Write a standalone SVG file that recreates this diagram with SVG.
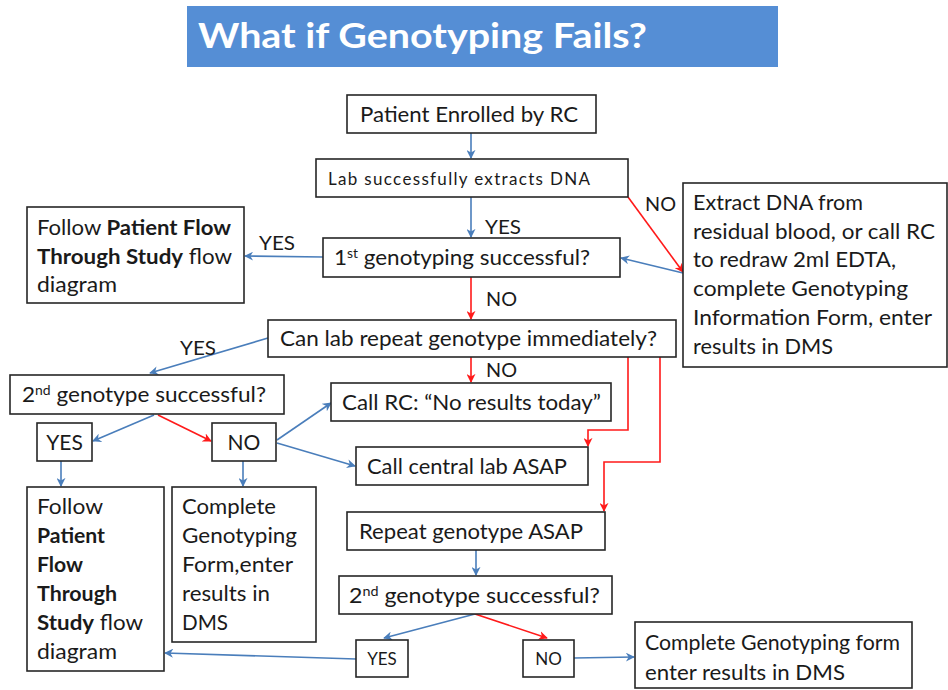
<svg xmlns="http://www.w3.org/2000/svg" width="948" height="690" viewBox="0 0 948 690">
  <style>
    .box { fill: #ffffff; stroke: #262626; stroke-width: 1.6; }
    .t { font-family: Lato, "Open Sans", "Liberation Sans", sans-serif; font-size: 21px; fill: #1a1a1a; }
    .s { font-size: 17px; }
    .b { font-weight: bold; }
    .blue { fill: none; stroke: #4a7ebb; stroke-width: 1.6; }
    .red { fill: none; stroke: #ff1a1a; stroke-width: 1.6; }
    .lbl { font-family: Lato, "Open Sans", "Liberation Sans", sans-serif; font-size: 19px; fill: #1a1a1a; }
  </style>
  <defs>
    <marker id="ab" viewBox="0 0 10 10" refX="9" refY="5" markerWidth="9" markerHeight="9" markerUnits="userSpaceOnUse" orient="auto">
      <path d="M0,0 L10,5 L0,10 L3,5 Z" fill="#4a7ebb"/>
    </marker>
    <marker id="ar" viewBox="0 0 10 10" refX="9" refY="5" markerWidth="9" markerHeight="9" markerUnits="userSpaceOnUse" orient="auto">
      <path d="M0,0 L10,5 L0,10 L3,5 Z" fill="#ff1a1a"/>
    </marker>
  </defs>

  <rect width="948" height="690" fill="#ffffff"/>

  <!-- title banner -->
  <g id="title">
    <rect x="187" y="6" width="591" height="61" fill="#558ed5"/>
    <text x="198" y="48" font-family="Lato, 'Open Sans', 'Liberation Sans', sans-serif" font-size="35" font-weight="bold" fill="#ffffff" textLength="449" lengthAdjust="spacingAndGlyphs">What if Genotyping Fails?</text>
  </g>

  <!-- connectors -->
  <g id="connectors">
    <line class="blue" x1="471" y1="133" x2="471" y2="158" marker-end="url(#ab)"/>
    <line class="blue" x1="471" y1="197" x2="471" y2="237" marker-end="url(#ab)"/>
    <line class="red" x1="628" y1="197" x2="683" y2="272" marker-end="url(#ar)"/>
    <line class="blue" x1="683" y1="273" x2="621" y2="258" marker-end="url(#ab)"/>
    <line class="blue" x1="323" y1="257" x2="245" y2="256" marker-end="url(#ab)"/>
    <line class="red" x1="471" y1="277" x2="471" y2="319" marker-end="url(#ar)"/>
    <line class="red" x1="471" y1="357" x2="471" y2="382" marker-end="url(#ar)"/>
    <line class="blue" x1="268" y1="338" x2="150" y2="373" marker-end="url(#ab)"/>
    <polyline class="red" points="628,357 628,430 588,430 588,446" marker-end="url(#ar)"/>
    <polyline class="red" points="660,357 660,462 604,462 604,511" marker-end="url(#ar)"/>
    <line class="blue" x1="154" y1="415" x2="93" y2="441" marker-end="url(#ab)"/>
    <line class="red" x1="158" y1="415" x2="211" y2="441" marker-end="url(#ar)"/>
    <line class="blue" x1="61" y1="461" x2="61" y2="486" marker-end="url(#ab)"/>
    <line class="blue" x1="243" y1="461" x2="243" y2="486" marker-end="url(#ab)"/>
    <line class="blue" x1="277" y1="440" x2="331" y2="403" marker-end="url(#ab)"/>
    <line class="blue" x1="277" y1="443" x2="355" y2="466" marker-end="url(#ab)"/>
    <line class="blue" x1="476" y1="550" x2="476" y2="575" marker-end="url(#ab)"/>
    <line class="blue" x1="475" y1="614" x2="384" y2="638" marker-end="url(#ab)"/>
    <line class="red" x1="475" y1="614" x2="547" y2="638" marker-end="url(#ar)"/>
    <line class="blue" x1="356" y1="659" x2="165" y2="653" marker-end="url(#ab)"/>
    <line class="blue" x1="574" y1="658" x2="634" y2="657" marker-end="url(#ab)"/>

    <text class="lbl" x="485" y="234" textLength="36" lengthAdjust="spacingAndGlyphs">YES</text>
    <text class="lbl" x="645" y="211" textLength="31" lengthAdjust="spacingAndGlyphs">NO</text>
    <text class="lbl" x="259" y="250" textLength="36" lengthAdjust="spacingAndGlyphs">YES</text>
    <text class="lbl" x="486" y="306" textLength="31" lengthAdjust="spacingAndGlyphs">NO</text>
    <text class="lbl" x="486" y="377" textLength="31" lengthAdjust="spacingAndGlyphs">NO</text>
    <text class="lbl" x="180" y="355" textLength="36" lengthAdjust="spacingAndGlyphs">YES</text>
  </g>

  <g id="enrolled">
    <rect class="box" x="347" y="95" width="249" height="38"/>
    <text class="t" x="360" y="122" textLength="218" lengthAdjust="spacingAndGlyphs">Patient Enrolled by RC</text>
  </g>

  <g id="extracts">
    <rect class="box" x="316" y="159" width="312" height="38"/>
    <text class="t s" x="328" y="185" textLength="262" lengthAdjust="spacing">Lab successfully  extracts DNA</text>
  </g>

  <g id="first-geno">
    <rect class="box" x="323" y="238" width="297" height="39"/>
    <text class="t" x="334" y="265" textLength="256" lengthAdjust="spacingAndGlyphs">1<tspan font-size="13" dy="-7">st</tspan><tspan dy="7"> genotyping successful?</tspan></text>
  </g>

  <g id="follow-top">
    <rect class="box" x="27" y="207" width="217" height="96"/>
    <text class="t" x="37" y="235" textLength="194" lengthAdjust="spacingAndGlyphs">Follow <tspan class="b">Patient Flow</tspan></text>
    <text class="t" x="37" y="264" textLength="195" lengthAdjust="spacingAndGlyphs"><tspan class="b">Through Study</tspan> flow</text>
    <text class="t" x="37" y="292" textLength="80" lengthAdjust="spacingAndGlyphs">diagram</text>
  </g>

  <g id="extract-residual">
    <rect class="box" x="683" y="183" width="264" height="184"/>
    <text class="t" x="693" y="210" textLength="170" lengthAdjust="spacingAndGlyphs">Extract DNA from</text>
    <text class="t" x="693" y="239" textLength="242" lengthAdjust="spacingAndGlyphs">residual blood, or call RC</text>
    <text class="t" x="693" y="267" textLength="203" lengthAdjust="spacingAndGlyphs">to redraw 2ml EDTA,</text>
    <text class="t" x="693" y="296" textLength="215" lengthAdjust="spacingAndGlyphs">complete Genotyping</text>
    <text class="t" x="693" y="325" textLength="239" lengthAdjust="spacingAndGlyphs">Information Form, enter</text>
    <text class="t" x="693" y="354" textLength="140" lengthAdjust="spacingAndGlyphs">results in DMS</text>
  </g>

  <g id="repeat-now">
    <rect class="box" x="268" y="320" width="408" height="37"/>
    <text class="t" x="280" y="346" textLength="377" lengthAdjust="spacingAndGlyphs">Can lab repeat genotype immediately?</text>
  </g>

  <g id="second-geno-a">
    <rect class="box" x="10" y="375" width="274" height="39"/>
    <text class="t" x="22" y="402" textLength="244" lengthAdjust="spacingAndGlyphs">2<tspan font-size="13" dy="-7">nd</tspan><tspan dy="7"> genotype successful?</tspan></text>
  </g>

  <g id="call-rc">
    <rect class="box" x="331" y="383" width="280" height="38"/>
    <text class="t" x="342" y="410" textLength="259" lengthAdjust="spacingAndGlyphs">Call RC: “No results today”</text>
  </g>

  <g id="call-central">
    <rect class="box" x="356" y="447" width="232" height="38"/>
    <text class="t" x="367" y="474" textLength="200" lengthAdjust="spacingAndGlyphs">Call central lab ASAP</text>
  </g>

  <g id="yes-a">
    <rect class="box" x="37" y="423" width="55" height="38"/>
    <text class="t" x="64.5" y="450" text-anchor="middle">YES</text>
  </g>

  <g id="no-a">
    <rect class="box" x="212" y="423" width="64" height="38"/>
    <text class="t" x="244" y="450" text-anchor="middle">NO</text>
  </g>

  <g id="follow-tall">
    <rect class="box" x="27" y="487" width="137" height="184"/>
    <text class="t" x="37" y="514" textLength="66" lengthAdjust="spacingAndGlyphs">Follow</text>
    <text class="t b" x="37" y="543" textLength="68" lengthAdjust="spacingAndGlyphs">Patient</text>
    <text class="t b" x="37" y="572" textLength="46" lengthAdjust="spacingAndGlyphs">Flow</text>
    <text class="t b" x="37" y="601" textLength="80" lengthAdjust="spacingAndGlyphs">Through</text>
    <text class="t" x="37" y="630" textLength="106" lengthAdjust="spacingAndGlyphs"><tspan class="b">Study</tspan> flow</text>
    <text class="t" x="37" y="659" textLength="80" lengthAdjust="spacingAndGlyphs">diagram</text>
  </g>

  <g id="complete-form">
    <rect class="box" x="172" y="487" width="144" height="155"/>
    <text class="t" x="182" y="514" textLength="94" lengthAdjust="spacingAndGlyphs">Complete</text>
    <text class="t" x="182" y="543" textLength="115" lengthAdjust="spacingAndGlyphs">Genotyping</text>
    <text class="t" x="182" y="572" textLength="111" lengthAdjust="spacingAndGlyphs">Form,enter</text>
    <text class="t" x="182" y="601" textLength="88" lengthAdjust="spacingAndGlyphs">results in</text>
    <text class="t" x="182" y="630" textLength="46" lengthAdjust="spacingAndGlyphs">DMS</text>
  </g>

  <g id="repeat-asap">
    <rect class="box" x="347" y="512" width="258" height="38"/>
    <text class="t" x="359" y="539" textLength="224" lengthAdjust="spacingAndGlyphs">Repeat genotype ASAP</text>
  </g>

  <g id="second-geno-b">
    <rect class="box" x="339" y="576" width="273" height="38"/>
    <text class="t" x="349" y="603" textLength="251" lengthAdjust="spacingAndGlyphs">2<tspan font-size="13" dy="-7">nd</tspan><tspan dy="7"> genotype successful?</tspan></text>
  </g>

  <g id="yes-b">
    <rect class="box" x="356" y="640" width="52" height="37"/>
    <text class="t s" x="382" y="665" text-anchor="middle">YES</text>
  </g>

  <g id="no-b">
    <rect class="box" x="523" y="640" width="51" height="37"/>
    <text class="t s" x="548.5" y="665" text-anchor="middle">NO</text>
  </g>

  <g id="complete-dms">
    <rect class="box" x="635" y="622" width="277" height="66"/>
    <text class="t" x="645" y="650" textLength="255" lengthAdjust="spacingAndGlyphs">Complete  Genotyping form</text>
    <text class="t" x="645" y="680" textLength="200" lengthAdjust="spacingAndGlyphs">enter results in DMS</text>
  </g>
</svg>
